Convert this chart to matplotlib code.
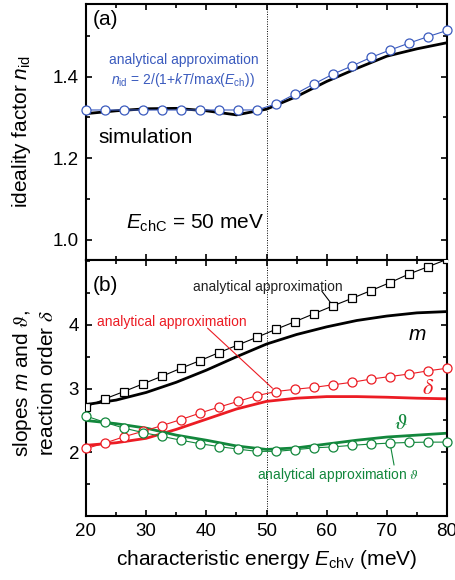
import numpy as np
import matplotlib
matplotlib.use("Agg")
import matplotlib.pyplot as plt
from matplotlib.ticker import MultipleLocator

plt.rcParams['font.family'] = ['Liberation Sans', 'DejaVu Sans']
plt.rcParams['mathtext.fontset'] = 'custom'
plt.rcParams['mathtext.rm'] = 'Liberation Sans'
plt.rcParams['mathtext.it'] = 'Liberation Sans:italic'
plt.rcParams['mathtext.sf'] = 'STIXGeneral:italic'
plt.rcParams['mathtext.fallback'] = 'stix'

# ---------------- data ----------------
# analytical approximation points (20 points from 20 to 80 meV)
x_ana = np.linspace(20, 80, 20)
nid_ana = [1.318, 1.318, 1.318, 1.318, 1.318, 1.318, 1.318, 1.318, 1.318, 1.318,
           1.333, 1.357, 1.382, 1.406, 1.426, 1.447, 1.465, 1.482, 1.498, 1.513]
m_ana = [2.71, 2.84, 2.955, 3.075, 3.195, 3.32, 3.44, 3.566, 3.687, 3.807,
         3.932, 4.052, 4.177, 4.30, 4.418, 4.54, 4.665, 4.80, 4.914, 5.03]
delta_ana = [2.06, 2.145, 2.245, 2.33, 2.42, 2.515, 2.616, 2.71, 2.80, 2.89,
             2.955, 2.99, 3.02, 3.06, 3.10, 3.15, 3.19, 3.23, 3.28, 3.32]
theta_ana = [2.57, 2.47, 2.38, 2.31, 2.25, 2.19, 2.135, 2.09, 2.05, 2.015,
             2.015, 2.04, 2.07, 2.085, 2.11, 2.13, 2.145, 2.155, 2.16, 2.16]

# simulation curves
x_sim = [20, 25, 30, 35, 40, 45, 50, 55, 60, 65, 70, 75, 80]
nid_sim = [1.309, 1.316, 1.321, 1.322, 1.316, 1.306, 1.320, 1.351, 1.388, 1.420, 1.450, 1.468, 1.483]
m_sim = [2.75, 2.82, 2.94, 3.10, 3.29, 3.50, 3.70, 3.85, 3.97, 4.07, 4.14, 4.19, 4.21]
delta_sim = [2.11, 2.15, 2.22, 2.36, 2.52, 2.68, 2.80, 2.85, 2.875, 2.875, 2.865, 2.85, 2.84]
theta_sim = [2.50, 2.45, 2.38, 2.27, 2.19, 2.10, 2.045, 2.07, 2.13, 2.19, 2.24, 2.27, 2.30]

xticks = [20, 30, 40, 50, 60, 70, 80]
yticks_a = [1.0, 1.2, 1.4]
yticks_b = [2, 3, 4]

BLUE = '#3B5BBE'
RED = '#EC1C24'
GREEN = '#12873C'

fig = plt.figure(figsize=(4.55, 5.8), dpi=100)
L, R = 86/455, 447/455
ax_a = fig.add_axes([L, 1-260/580, R-L, (260-4)/580])
ax_b = fig.add_axes([L, 1-516/580, R-L, (516-260)/580])

for ax in (ax_a, ax_b):
    ax.set_xlim(20, 80)
    ax.xaxis.set_major_locator(MultipleLocator(10))
    ax.xaxis.set_minor_locator(MultipleLocator(5))
    ax.tick_params(which='both', direction='in', top=True, right=True, width=1.2)
    ax.tick_params(which='major', length=4.5, labelsize=13.5, pad=5)
    ax.tick_params(which='minor', length=3)
    for s in ax.spines.values():
        s.set_linewidth(1.5)
    ax.axvline(50, color='black', lw=0.7, ls=(0, (1, 1.5)), zorder=1)

# ---- panel (a)
ax_a.set_ylim(0.95, 1.578)
ax_a.set_yticks(yticks_a)
ax_a.set_yticklabels(['1.0', '1.2', '1.4'])
ax_a.yaxis.set_minor_locator(MultipleLocator(0.1))
ax_a.tick_params(axis='x', labelbottom=False)
ax_a.plot(x_ana, nid_ana, '-o', color=BLUE, lw=0.8, ms=6.5, mfc='white', mec=BLUE, mew=0.9, zorder=3, clip_on=False)
ax_a.plot(x_sim, nid_sim, '-', color='black', lw=2.0, zorder=2)
ax_a.set_ylabel(r'ideality factor $n_{\rm id}$', fontsize=15)
ax_a.yaxis.set_label_coords(-0.147, 0.5)
ax_a.text(0.02, 0.94, '(a)', transform=ax_a.transAxes, fontsize=15, va='center', ha='left')
ax_a.text(0.065, 0.78, 'analytical approximation', transform=ax_a.transAxes, fontsize=10, color=BLUE, va='center')
ax_a.text(0.068, 0.705, r'$n_{\rm id}$ = 2/(1+$kT$/max($E_{\rm ch}$))', transform=ax_a.transAxes,
          fontsize=10, color=BLUE, va='center')
ax_a.text(0.035, 0.48, 'simulation', transform=ax_a.transAxes, fontsize=15, va='center')
ax_a.text(0.11, 0.145, r'$E_{\rm chC}$ = 50 meV', transform=ax_a.transAxes, fontsize=15, va='center')

# ---- panel (b)
ax_b.set_ylim(1.0, 5.02)
ax_b.set_yticks(yticks_b)
ax_b.yaxis.set_minor_locator(MultipleLocator(0.5))
ax_b.plot(x_ana, m_ana, '-s', color='black', lw=0.8, ms=5.5, mfc='white', mec='black', mew=0.9, zorder=3)
ax_b.plot(x_ana, delta_ana, '-o', color=RED, lw=0.8, ms=6.5, mfc='white', mec=RED, mew=0.9, zorder=3, clip_on=False)
ax_b.plot(x_ana, theta_ana, '-o', color=GREEN, lw=0.8, ms=6.5, mfc='white', mec=GREEN, mew=0.9, zorder=3, clip_on=False)
ax_b.plot(x_sim, m_sim, '-', color='black', lw=2.0, zorder=2)
ax_b.plot(x_sim, delta_sim, '-', color=RED, lw=2.0, zorder=2)
ax_b.plot(x_sim, theta_sim, '-', color=GREEN, lw=2.0, zorder=2)

ax_b.set_ylabel('slopes $m$ and $\\mathsf{\\vartheta}$,\nreaction order $\\mathsf{\\delta}$', fontsize=15, linespacing=1.25)
ax_b.yaxis.set_label_coords(-0.08, 0.52)
ax_b.set_xlabel(r'characteristic energy $E_{\rm chV}$ (meV)', fontsize=15, labelpad=6)
ax_b.set_xticks(xticks)

ax_b.text(0.02, 0.9, '(b)', transform=ax_b.transAxes, fontsize=15, va='center', ha='left')
# black annotation
ax_b.text(50.3, 4.60, 'analytical approximation', fontsize=10, color='#222222', ha='center', va='center')
ax_b.annotate('', xy=(x_ana[13], m_ana[13]), xytext=(59.2, 4.53),
              arrowprops=dict(arrowstyle='-', lw=0.8, color='black', shrinkA=0, shrinkB=3.5))
# red annotation
ax_b.text(34.3, 4.04, 'analytical approximation', fontsize=10, color=RED, ha='center', va='center')
ax_b.annotate('', xy=(x_ana[10], delta_ana[10]), xytext=(40.2, 3.95),
              arrowprops=dict(arrowstyle='-', lw=0.8, color=RED, shrinkA=0, shrinkB=3.5))
# green annotation
ax_b.text(61.9, 1.64, 'analytical approximation $\\mathsf{\\vartheta}$', fontsize=10, color=GREEN, ha='center', va='center')
ax_b.annotate('', xy=(x_ana[16], theta_ana[16]), xytext=(71.2, 1.80),
              arrowprops=dict(arrowstyle='-', lw=0.8, color=GREEN, shrinkA=0, shrinkB=3.5))

ax_b.text(75.0, 3.85, '$m$', fontsize=15, ha='center', va='center')
ax_b.text(76.9, 3.0, '$\\mathsf{\\delta}$', fontsize=16, color=RED, ha='center', va='center')
ax_b.text(72.4, 2.45, '$\\mathsf{\\vartheta}$', fontsize=16, color=GREEN, ha='center', va='center')

fig.savefig('out.png', dpi=100)
